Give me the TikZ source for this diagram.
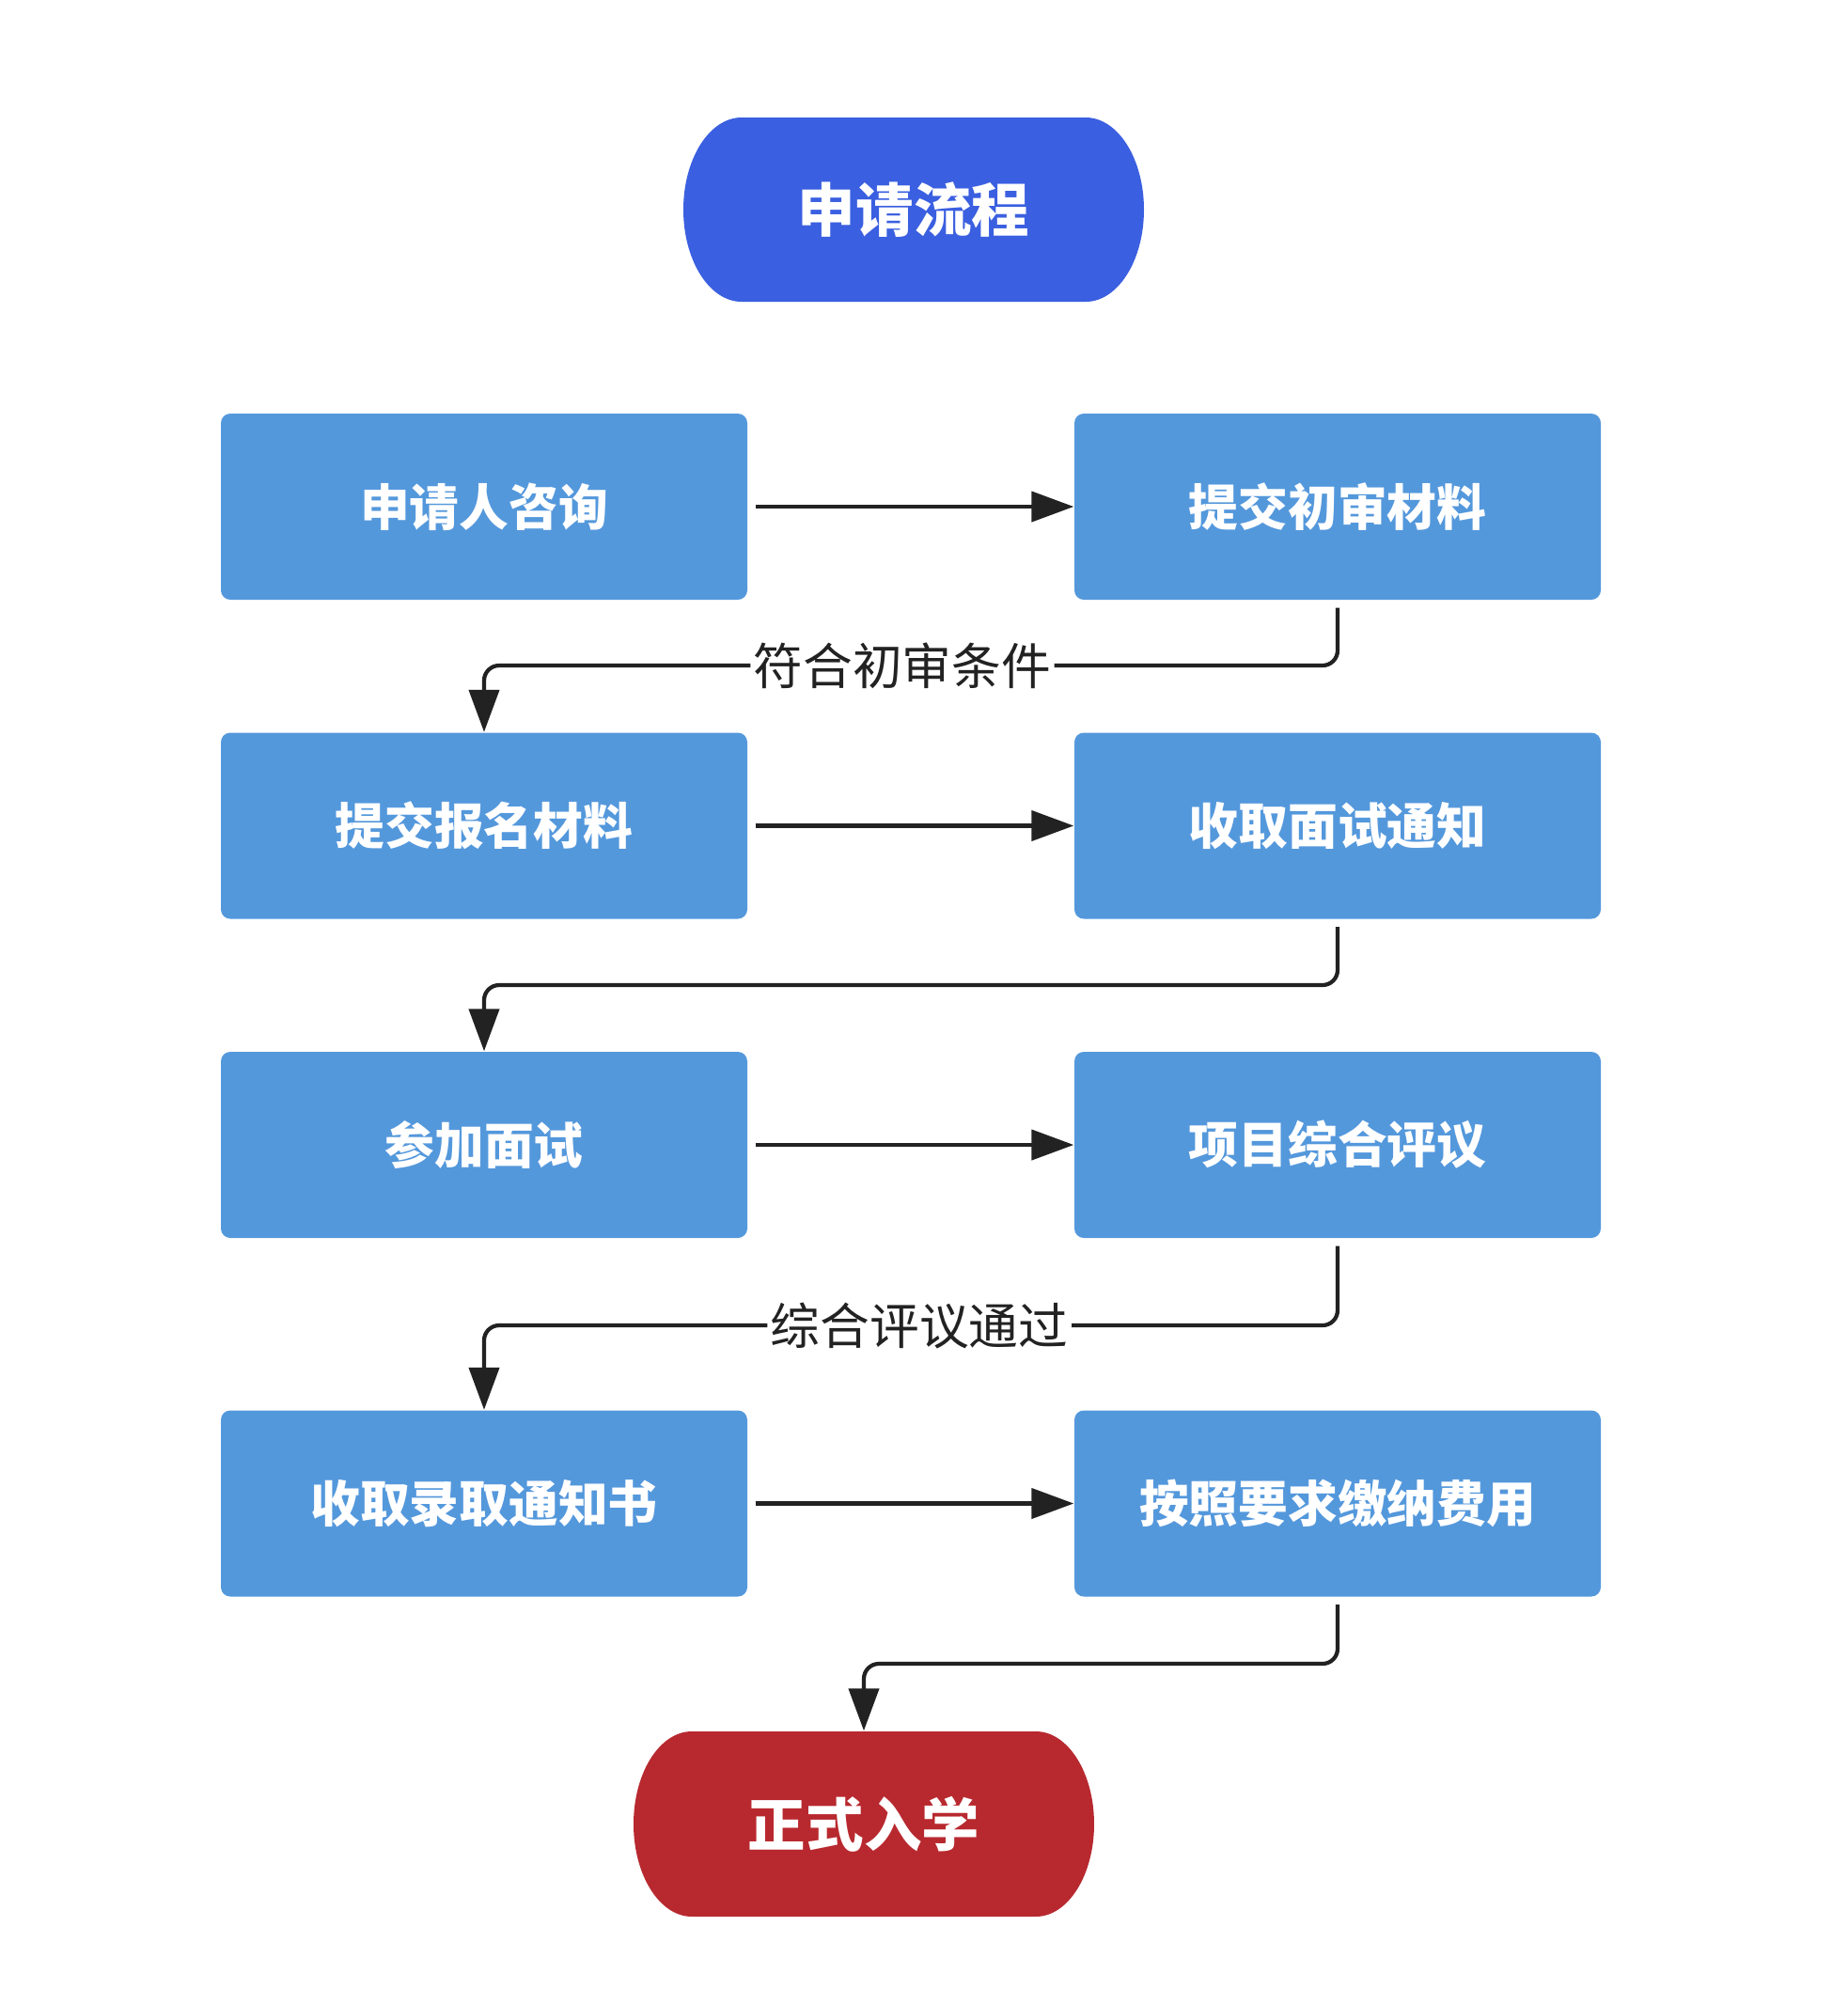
\documentclass[tikz,border=0pt]{standalone}
\usepackage{fontspec}
\newfontfamily\cjk{Noto Sans CJK SC}
\usetikzlibrary{arrows.meta}
\definecolor{titleblue}{HTML}{3A5FE0}
\definecolor{boxblue}{HTML}{5498DC}
\definecolor{endred}{HTML}{B8292F}
\definecolor{ink}{HTML}{222222}
\tikzset{
  stepbox/.style={rectangle, rounded corners=0.1cm, fill=boxblue, minimum width=5.6cm, minimum height=1.98cm, text=white, font=\cjk\bfseries\fontsize{15pt}{18pt}\selectfont},
  terminal/.style={rectangle, minimum width=4.9cm, minimum height=1.96cm, text=white, font=\cjk\bfseries\fontsize{17.5pt}{21pt}\selectfont},
  conn/.style={draw=ink, line width=1.2pt, rounded corners=0.16cm, -{Triangle[length=0.45cm,width=0.32cm]}},
  lbl/.style={fill=white, inner sep=1pt, text=ink, font=\cjk\fontsize{15pt}{18pt}\selectfont}
}
\newcommand{\capsule}[5]{% color, cx, cy, w, h
  \pgfmathsetmacro{\cxl}{#2-#4/2+0.62}
  \pgfmathsetmacro{\cxr}{#2+#4/2-0.62}
  \pgfmathsetmacro{\cyt}{#3+#5/2}
  \pgfmathsetmacro{\cyb}{#3-#5/2}
  \pgfmathsetmacro{\cyr}{#5/2}
  \fill[#1] (\cxl,\cyt) -- (\cxr,\cyt) arc[start angle=90, end angle=-90, x radius=0.62cm, y radius=\cyr cm] -- (\cxl,\cyb) arc[start angle=270, end angle=90, x radius=0.62cm, y radius=\cyr cm] -- cycle;
}
\begin{document}
\begin{tikzpicture}
\useasboundingbox[fill=white] (0,0) rectangle (19.66,-21.32);
\capsule{titleblue}{9.72}{-2.23}{4.9}{1.96}
\capsule{endred}{9.19}{-19.405}{4.9}{1.97}
\node[terminal] (t) at (9.72,-2.23) {申请流程};
\node[stepbox] (a1) at (5.15,-5.39) {申请人咨询};
\node[stepbox] (a2) at (14.23,-5.39) {提交初审材料};
\node[stepbox] (b1) at (5.15,-8.785) {提交报名材料};
\node[stepbox] (b2) at (14.23,-8.785) {收取面试通知};
\node[stepbox] (c1) at (5.15,-12.18) {参加面试};
\node[stepbox] (c2) at (14.23,-12.18) {项目综合评议};
\node[stepbox] (d1) at (5.15,-15.995) {收取录取通知书};
\node[stepbox] (d2) at (14.23,-15.995) {按照要求缴纳费用};
\node[terminal, minimum height=1.97cm] (e) at (9.19,-19.405) {正式入学};
\coordinate (y1) at (0,-7.08);
\coordinate (y2) at (0,-10.48);
\coordinate (y3) at (0,-14.10);
\coordinate (y4) at (0,-17.70);
\draw[conn] ([xshift=0.08cm]a1.east) -- (a2.west);
\draw[conn] ([xshift=0.08cm]b1.east) -- (b2.west);
\draw[conn] ([xshift=0.08cm]c1.east) -- (c2.west);
\draw[conn] ([xshift=0.08cm]d1.east) -- (d2.west);
\draw[conn] ([yshift=-0.08cm]a2.south) -- (a2.south |- y1) -- node[lbl, pos=0.51]{符合初审条件} (b1.north |- y1) -- (b1.north);
\draw[conn] ([yshift=-0.08cm]b2.south) -- (b2.south |- y2) -- (c1.north |- y2) -- (c1.north);
\draw[conn] ([yshift=-0.08cm]c2.south) -- (c2.south |- y3) -- node[lbl, pos=0.49]{综合评议通过} (d1.north |- y3) -- (d1.north);
\draw[conn] ([yshift=-0.08cm]d2.south) -- (d2.south |- y4) -- (e.north |- y4) -- (e.north);
\end{tikzpicture}
\end{document}
